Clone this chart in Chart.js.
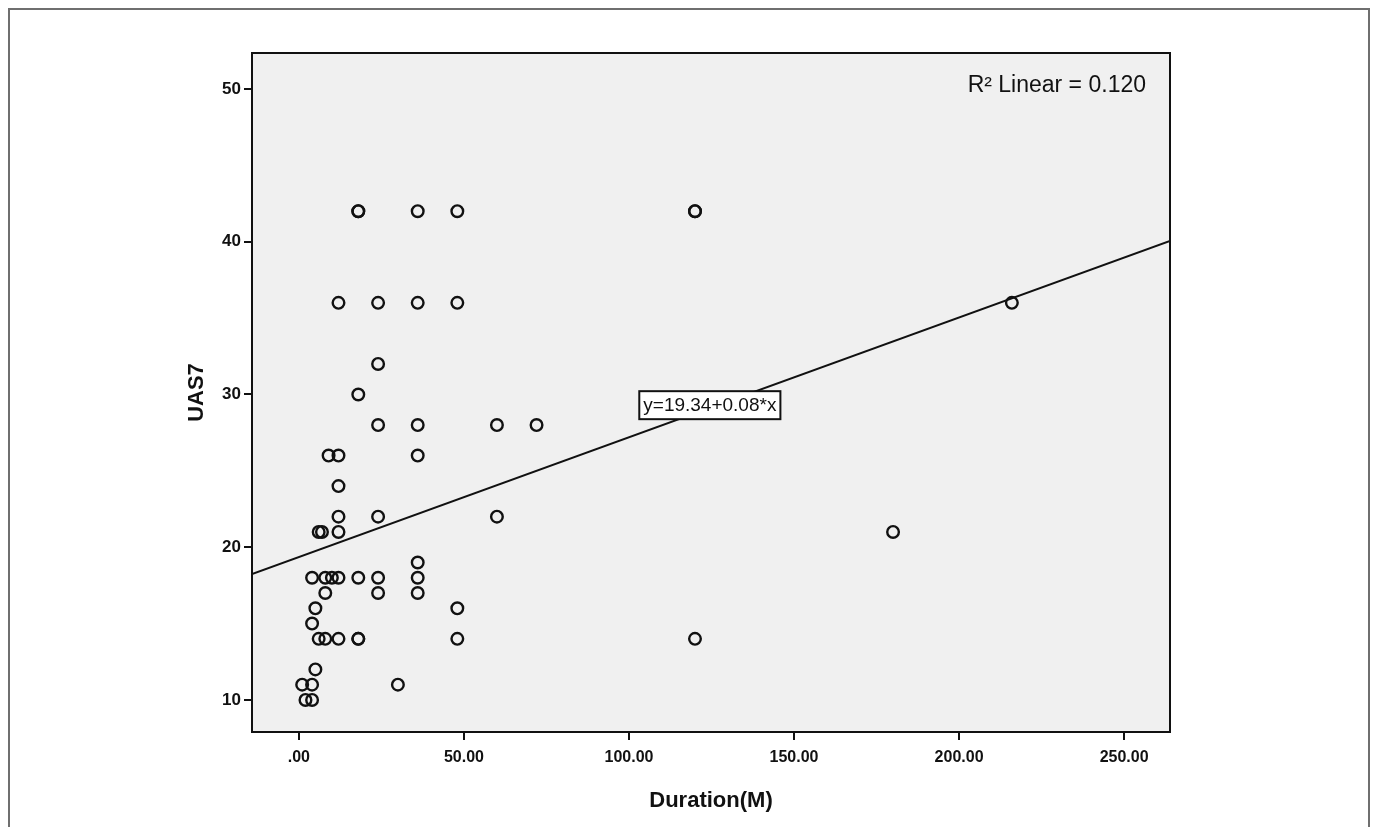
<!DOCTYPE html>
<html>
<head>
<meta charset="utf-8">
<script src="https://cdn.jsdelivr.net/npm/chart.js@4.4.1/dist/chart.umd.min.js"></script>
<style>
  html, body { margin: 0; padding: 0; background: #fff; }
  #frame { position: absolute; left: 8px; top: 8px; width: 1358px; height: 830px;
           border: 2px solid #6f6f6f; border-bottom: none; }
  #wrap { position: absolute; left: 0; top: 0; width: 1376px; height: 827px; }
</style>
</head>
<body>
<div id="frame"></div>
<div id="wrap"><canvas id="scatterChart" width="1376" height="827"></canvas></div>
<script>
// Duration in months (x) and UAS7 score (y)
const duration = [18, 18, 36, 48, 120, 120,
                  12, 24, 36, 48, 216,
                  24, 18,
                  24, 36, 60, 72,
                  9, 12, 36,
                  12,
                  12, 24, 60,
                  6, 7, 12, 180,
                  36,
                  4, 8, 10, 12, 18, 24, 36,
                  8, 24, 36,
                  5, 48,
                  4,
                  6, 8, 12, 18, 18, 48, 120,
                  5,
                  1, 4, 30,
                  2, 4];
const uas7 = [42, 42, 42, 42, 42, 42,
              36, 36, 36, 36, 36,
              32, 30,
              28, 28, 28, 28,
              26, 26, 26,
              24,
              22, 22, 22,
              21, 21, 21, 21,
              19,
              18, 18, 18, 18, 18, 18, 18,
              17, 17, 17,
              16, 16,
              15,
              14, 14, 14, 14, 14, 14, 14,
              12,
              11, 11, 11,
              10, 10];

const xTicks = [0, 50, 100, 150, 200, 250];
const yTicks = [10, 20, 30, 40, 50];
const xRange = [-14.2, 263.9];
const yRange = [7.9, 52.36];

// fit as drawn (label shows rounded values)
const fitIntercept = 19.36;
const fitSlope = 0.0784;
const rSquared = 0.120;

const points = duration.map((d, i) => ({ x: d, y: uas7[i] }));
const fitLine = xRange.map(x => ({ x: x, y: fitIntercept + fitSlope * x }));

const FONT = "'Liberation Sans', Arial, sans-serif";

const plotDecor = {
    id: 'plotDecor',
    beforeDraw(chart) {
        const { ctx, chartArea: a } = chart;
        ctx.save();
        ctx.fillStyle = '#f0f0f0';
        ctx.fillRect(a.left, a.top, a.right - a.left, a.bottom - a.top);
        ctx.restore();
    },
    afterDraw(chart) {
        const { ctx, chartArea: a, scales } = chart;
        ctx.save();
        ctx.strokeStyle = '#111';
        ctx.lineWidth = 2;
        ctx.strokeRect(a.left, a.top, a.right - a.left, a.bottom - a.top);

        // equation label on the fit line
        const lx = scales.x.getPixelForValue(124.5);
        const ly = scales.y.getPixelForValue(29.3);
        ctx.font = '19px ' + FONT;
        const label = 'y=19.34+0.08*x';
        const w = ctx.measureText(label).width + 8;
        ctx.fillStyle = '#fff';
        ctx.fillRect(lx - w / 2, ly - 14, w, 28);
        ctx.lineWidth = 2;
        ctx.strokeStyle = '#111';
        ctx.strokeRect(lx - w / 2, ly - 14, w, 28);
        ctx.fillStyle = '#111';
        ctx.textAlign = 'center';
        ctx.textBaseline = 'middle';
        ctx.fillText(label, lx, ly + 1);

        // R squared
        ctx.font = '23px ' + FONT;
        ctx.textAlign = 'right';
        ctx.fillText('R\u00B2 Linear = ' + rSquared.toFixed(3), a.right - 24, a.top + 33);

        // axis titles
        ctx.font = 'bold 22px ' + FONT;
        ctx.textAlign = 'center';
        ctx.fillText('Duration(M)', (a.left + a.right) / 2, 801);
        ctx.translate(197, (a.top + a.bottom) / 2);
        ctx.rotate(-Math.PI / 2);
        ctx.fillText('UAS7', 0, 0);
        ctx.restore();
    }
};

const ctx = document.getElementById('scatterChart').getContext('2d');
new Chart(ctx, {
    type: 'scatter',
    data: {
        datasets: [{
            label: 'UAS7',
            data: points,
            pointStyle: 'circle',
            pointRadius: 5.8,
            pointHoverRadius: 5.8,
            borderWidth: 2.4,
            borderColor: '#111',
            backgroundColor: 'rgba(0,0,0,0)'
        }, {
            type: 'line',
            label: 'Fit',
            data: fitLine,
            borderColor: '#111',
            borderWidth: 2,
            pointRadius: 0,
            fill: false,
            order: 1
        }]
    },
    options: {
        responsive: false,
        animation: false,
        devicePixelRatio: 1,
        layout: { padding: { top: 53, right: 206, left: 0, bottom: 0 } },
        plugins: { legend: { display: false }, tooltip: { enabled: false } },
        scales: {
            x: {
                type: 'linear',
                min: xRange[0],
                max: xRange[1],
                afterBuildTicks: scale => { scale.ticks = xTicks.map(v => ({ value: v })); },
                afterFit: scale => { scale.height = 95; },
                grid: { drawOnChartArea: false, drawTicks: true, tickLength: 8, color: '#111', lineWidth: 2 },
                border: { display: true, color: '#111', width: 2 },
                ticks: {
                    color: '#111',
                    padding: 8,
                    font: { family: FONT, size: 16, weight: 'bold' },
                    callback: v => (v === 0 ? '.00' : v.toFixed(2))
                }
            },
            y: {
                type: 'linear',
                min: yRange[0],
                max: yRange[1],
                afterBuildTicks: scale => { scale.ticks = yTicks.map(v => ({ value: v })); },
                afterFit: scale => { scale.width = 252; },
                grid: { drawOnChartArea: false, drawTicks: true, tickLength: 8, color: '#111', lineWidth: 2 },
                border: { display: true, color: '#111', width: 2 },
                ticks: {
                    color: '#111',
                    padding: 3,
                    font: { family: FONT, size: 17, weight: 'bold' }
                }
            }
        }
    },
    plugins: [plotDecor]
});
</script>
</body>
</html>
